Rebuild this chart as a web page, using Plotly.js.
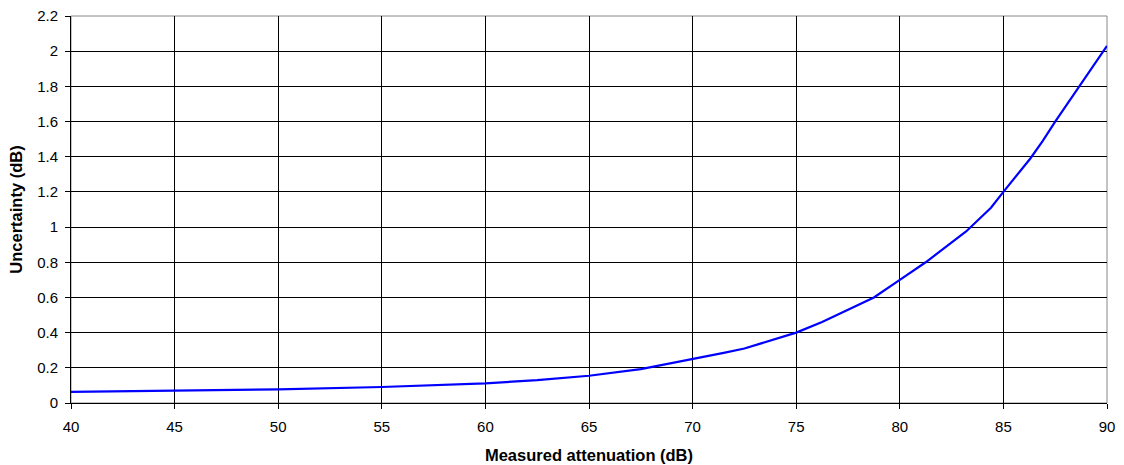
<!DOCTYPE html>
<html><head><meta charset="utf-8">
<script src="https://cdn.plot.ly/plotly-3.0.1.min.js"></script>
<style>html,body{margin:0;padding:0;background:#fff}#chart{width:1124px;height:465px}</style>
</head><body><div id="chart"></div>
<script>
const attenuation = [40, 45, 50, 55, 57.5, 60, 62.5, 65, 67.5, 70, 71.5, 72.5, 75, 76.25, 78.75, 80, 81.25, 83.2, 84.4, 85, 86.3, 86.9, 87.5, 90];
const uncertainty = [0.063, 0.07, 0.078, 0.091, 0.1, 0.112, 0.13, 0.155, 0.193, 0.248, 0.285, 0.31, 0.40, 0.46, 0.60, 0.70, 0.80, 0.975, 1.11, 1.20, 1.39, 1.49, 1.60, 2.03];
const xTicks = [40, 45, 50, 55, 60, 65, 70, 75, 80, 85, 90];
const yTicks = [0, 0.2, 0.4, 0.6, 0.8, 1, 1.2, 1.4, 1.6, 1.8, 2, 2.2];

const tickFont = {family: '"Liberation Sans", Arial, sans-serif', size: 15, color: '#000'};
const titleFont = {family: '"Liberation Sans", Arial, sans-serif', size: 16.5, color: '#000'};
Plotly.newPlot('chart', [{
  x: attenuation, y: uncertainty, type: 'scatter', mode: 'lines',
  line: {color: '#0000ff', width: 2.2}, hoverinfo: 'skip'
}], {
  width: 1124, height: 465,
  margin: {l: 71, r: 17, t: 16, b: 62},
  paper_bgcolor: '#fff', plot_bgcolor: '#fff',
  font: tickFont, showlegend: false,
  xaxis: {
    range: [40, 90], tickvals: xTicks, ticktext: xTicks.map(String),
    showgrid: true, gridcolor: '#000', gridwidth: 1,
    showline: true, linecolor: '#000', linewidth: 1,
    ticks: 'outside', ticklen: 5, tickcolor: '#000', zeroline: false,
    tickfont: tickFont, ticklabelstandoff: 5,
    title: {text: '<b>Measured attenuation (dB)</b>', font: titleFont, standoff: 15}
  },
  yaxis: {
    range: [0, 2.2], tickvals: yTicks, ticktext: yTicks.map(String),
    showgrid: true, gridcolor: '#000', gridwidth: 1,
    showline: true, linecolor: '#000', linewidth: 1,
    ticks: 'outside', ticklen: 5, tickcolor: '#000', zeroline: false,
    tickfont: tickFont, ticklabelstandoff: 4,
    title: {text: '<b>Uncertainty (dB)</b>', font: titleFont, standoff: 10}
  },
  shapes: [{type: 'rect', xref: 'paper', yref: 'paper', x0: 0, x1: 1, y0: 0, y1: 1,
    line: {color: '#888', width: 1}, layer: 'below'}]
}, {displayModeBar: false, staticPlot: true});
</script></body></html>
